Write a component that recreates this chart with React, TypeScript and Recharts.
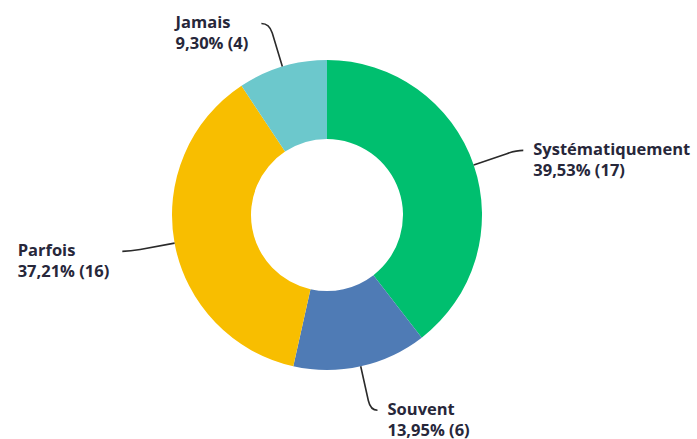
import React from "react";
import { PieChart, Pie, Cell } from "recharts";

const categories = ["Systématiquement", "Souvent", "Parfois", "Jamais"];
const counts = [17, 6, 16, 4];
const percentLabels = ["39,53%", "13,95%", "37,21%", "9,30%"];
const colors = ["#00BF6F", "#4F7BB5", "#F8BE00", "#6CC8CC"];

const data = categories.map((name, i) => ({
  name,
  value: counts[i],
  pct: percentLabels[i],
}));

const RAD = Math.PI / 180;
const FONT = "bold 16.5px 'Open Sans'";
const TEXT_COLOR = "#27273a";
const LINE_COLOR = "#2a2a2a";

let ctx: CanvasRenderingContext2D | null = null;
function measure(t: string): number {
  if (!ctx) {
    const c = document.createElement("canvas");
    ctx = c.getContext("2d");
  }
  if (!ctx) return t.length * 9;
  ctx.font = FONT;
  return ctx.measureText(t).width;
}

function geom(props: any) {
  const { cx, cy, midAngle, outerRadius } = props;
  const cos = Math.cos(-midAngle * RAD);
  const sin = Math.sin(-midAngle * RAD);
  const p0 = { x: cx + outerRadius * cos, y: cy + outerRadius * sin };
  const pa = { x: cx + (outerRadius + 35) * cos, y: cy + (outerRadius + 35) * sin };
  const p1 = { x: cx + (outerRadius + 45) * cos, y: cy + (outerRadius + 45) * sin };
  const right = cos >= 0;
  const p2 = { x: p1.x + (right ? 7 : -8), y: p1.y };
  return { p0, pa, p1, p2, right };
}

const renderLine = (props: any) => {
  const { p0, pa, p1, p2 } = geom(props);
  return (
    <path
      d={`M${p0.x},${p0.y} L${pa.x},${pa.y} Q${p1.x},${p1.y} ${p2.x},${p2.y}`}
      stroke={LINE_COLOR}
      strokeWidth={1.6}
      fill="none"
    />
  );
};

const renderLabel = (props: any) => {
  const { p2, right } = geom(props);
  const l1 = props.name;
  const l2 = `${props.payload.pct} (${props.value})`;
  const w = Math.max(measure(l1), measure(l2));
  const gap = right ? 10 : 13;
  const x = right ? p2.x + gap : p2.x - gap - w;
  return (
    <text
      x={x}
      y={p2.y}
      fill={TEXT_COLOR}
      style={{ font: FONT }}
      textAnchor="start"
    >
      <tspan x={x} dy={5}>{l1}</tspan>
      <tspan x={x} dy={21}>{l2}</tspan>
    </text>
  );
};

export default function App() {
  return (
    <div style={{ position: "absolute", left: 0, top: 0, width: 697, height: 439, background: "#fff" }}>
      <PieChart width={697} height={439} margin={{ top: 0, right: 0, bottom: 0, left: 0 }}>
        <Pie
          data={data}
          dataKey="value"
          nameKey="name"
          cx={327}
          cy={215}
          innerRadius={76}
          outerRadius={155}
          startAngle={90}
          endAngle={-270}
          stroke="none"
          isAnimationActive={false}
          label={renderLabel}
          labelLine={renderLine}
        >
          {data.map((d, i) => (
            <Cell key={d.name} fill={colors[i]} />
          ))}
        </Pie>
      </PieChart>
    </div>
  );
}
